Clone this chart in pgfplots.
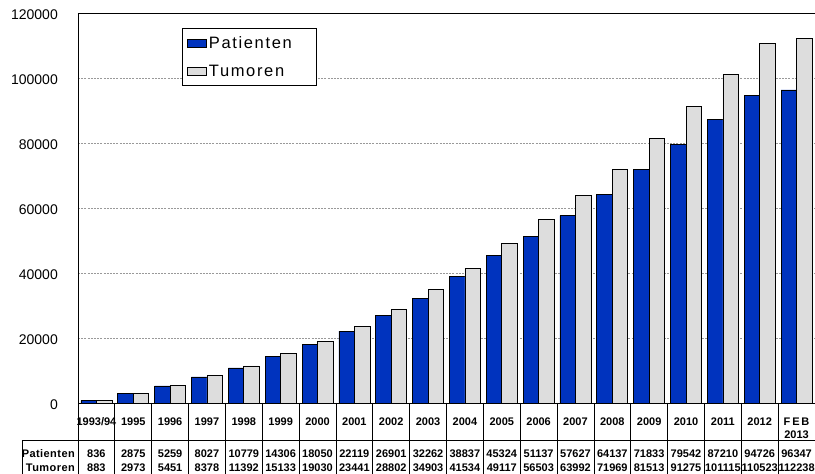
\documentclass[border=0pt]{standalone}
\usepackage{fontspec}
\setmainfont{Liberation Sans}
\newfontfamily\legfont[LetterSpace=10]{Liberation Sans}
\newfontfamily\lblfont[LetterSpace=4]{Liberation Sans}
\usepackage{pgfplots}
\usepackage{pgfplotstable}
\pgfplotsset{compat=1.18}
\definecolor{pblue}{RGB}{0,51,190}
\definecolor{tgray}{RGB}{221,221,221}
\pgfplotsset{sqlegend/.style={legend image code/.code={\draw[##1, line width=0.8pt] (0pt,-4pt) rectangle (18.5pt,4pt);}}}

\pgfplotstableread{
x pat tum
0 836 883
1 2875 2973
2 5259 5451
3 8027 8378
4 10779 11392
5 14306 15133
6 18050 19030
7 22119 23441
8 26901 28802
9 32262 34903
10 38837 41534
11 45324 49117
12 51137 56503
13 57627 63992
14 64137 71969
15 71833 81513
16 79542 91275
17 87210 101115
18 94726 110523
19 96347 112238
}\data

\newcommand\tabfont{\fontsize{11}{13.3}\selectfont\bfseries}

\begin{document}
\begin{tikzpicture}
\begin{axis}[
  at={(0pt,0pt)}, anchor=south west,
  scale only axis, width=737pt, height=390pt,
  xmin=-0.5, xmax=19.5, ymin=0, ymax=120000,
  axis line style={line width=0.8pt},
  xtick={0,1,...,19},
  xticklabels={1993/94,1995,1996,1997,1998,1999,2000,2001,2002,2003,2004,2005,2006,2007,2008,2009,2010,2011,2012,{F\,E\,B\\2013}},
  ytick={0,20000,40000,60000,80000,100000,120000},
  major tick length=0pt,
  ymajorgrids,
  grid style={black!40, dash pattern=on 2pt off 1.2pt, line width=0.5pt},
  scaled y ticks=false,
  /pgf/number format/fixed,
  /pgf/number format/precision=0,
  /pgf/number format/1000 sep={},
  /pgf/number format/assume math mode=true,
  yticklabel style={font=\fontsize{14}{16}\selectfont, anchor=east, inner sep=0pt, xshift=-20pt, yshift=-1.5pt},
  xticklabel style={font=\tabfont, anchor=north, inner sep=0pt, yshift=-14.5pt, align=center},
  clip=false,
  legend style={at={(0.1407,0.9608)}, anchor=north west, draw=black, line width=0.8pt, fill=white,
    inner xsep=5.2pt, inner ysep=8pt, row sep=14.9pt, column sep=2.3pt,
    nodes={inner sep=0pt, font=\legfont\fontsize{16.5}{18}\selectfont},
    cells={anchor=west}},
]
\addplot[ybar, bar width=15.5pt, bar shift=-7.75pt, fill=pblue, draw=black, line width=0.7pt, sqlegend]
  table[x=x, y=pat]{\data};
\addlegendentry{Patienten\hspace*{19pt}}
\addplot[ybar, bar width=15.5pt, bar shift=7.75pt, fill=tgray, draw=black, line width=0.7pt, sqlegend]
  table[x=x, y=tum]{\data};
\addlegendentry{Tumoren\hspace*{19pt}}
% data table rows
\addplot[draw=none, mark=none, forget plot, point meta=explicit symbolic,
  nodes near coords={\pgfplotspointmeta},
  nodes near coords style={anchor=base, inner sep=0pt, yshift=-55pt, font=\tabfont}]
  table[x=x, y expr=0, meta=pat]{\data};
\addplot[draw=none, mark=none, forget plot, point meta=explicit symbolic,
  nodes near coords={\pgfplotspointmeta},
  nodes near coords style={anchor=base, inner sep=0pt, yshift=-68.5pt, font=\tabfont}]
  table[x=x, y expr=0, meta=tum]{\data};
\end{axis}
% table grid
\draw[line width=0.8pt] (-56pt,-37.5pt) -- (737pt,-37.5pt);
\foreach \k in {0,...,20} {
  \draw[line width=0.8pt] ({\k*36.85pt},0pt) -- ({\k*36.85pt},-72pt);
}
\draw[line width=0.8pt] (-56pt,-37.5pt) -- (-56pt,-72pt);
\node[anchor=base east, inner sep=0pt, font=\lblfont\fontsize{11}{13}\selectfont\bfseries] at (-3pt,-55pt) {Patienten};
\node[anchor=base east, inner sep=0pt, font=\lblfont\fontsize{11}{13}\selectfont\bfseries] at (-3pt,-68.5pt) {Tumoren};
\pgfresetboundingbox
\path[use as bounding box] (-78pt,-71pt) rectangle (737pt,403pt);
\end{tikzpicture}
\end{document}
